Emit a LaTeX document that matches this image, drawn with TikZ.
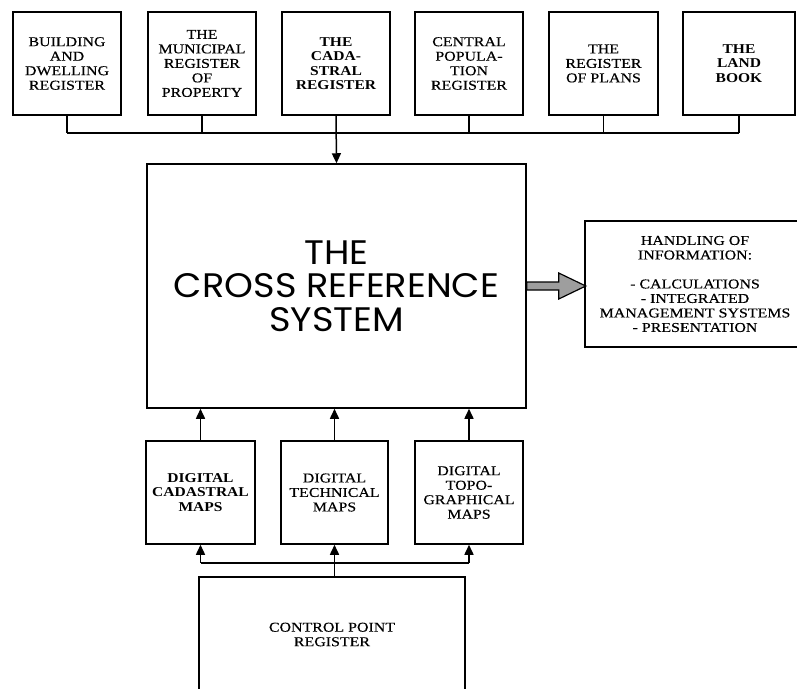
\documentclass[tikz,border=0pt]{standalone}
\usepackage{fontspec}
\setmainfont{Liberation Serif}
\newfontfamily\geo[FakeStretch=1.08]{Poppins}
\newfontfamily\tms[FakeStretch=1.18,FakeBold=0.3]{Liberation Serif}
\newfontfamily\tmsb[FakeStretch=1.15]{Liberation Serif Bold}
\usetikzlibrary{arrows.meta,calc}
\begin{document}
\begin{tikzpicture}[x=1pt,y=-1pt,
  boxline/.style={draw, line width=1.5pt},
  regbox/.style={boxline, minimum height=103pt, inner sep=0pt, align=center,
    font=\tms\fontsize{13.5}{14.5}\selectfont},
  boldbox/.style={regbox, font=\tmsb\fontsize{13.5}{14.5}\selectfont},
  plaintxt/.style={inner sep=0pt, align=center, font=\tms\fontsize{13.5}{14.5}\selectfont},
  conn/.style={line width=1.5pt},
  arr/.style={line width=1.5pt, -{Triangle[length=10pt,width=9pt]}},
  fatarrow/.style={draw=black, line width=1.2pt, fill=black!38}
]
\useasboundingbox (0,0) rectangle (797,688);
% top registers
\node[regbox, minimum width=108pt] (t1) at (67,63.5) {BUILDING\\AND\\DWELLING\\REGISTER};
\node[regbox, minimum width=108pt] (t2) at (202,63.5) {THE\\MUNICIPAL\\REGISTER\\OF\\PROPERTY};
\node[boldbox, minimum width=108pt] (t3) at (336,63.5) {THE\\CADA-\\STRAL\\REGISTER};
\node[regbox, minimum width=108pt] (t4) at (469,63.5) {CENTRAL\\POPULA-\\TION\\REGISTER};
\node[regbox, minimum width=109pt] (t5) at (603.5,63.5) {THE\\REGISTER\\OF PLANS};
\node[boldbox, minimum width=112pt] (t6) at (739,63.5) {THE\\LAND\\BOOK};
% main box
\node[boxline, minimum width=379pt, minimum height=244pt, inner sep=0pt, align=center,
  font=\geo\fontsize{34}{33.5}\selectfont] (main) at (336.5,286) {THE\\CROSS REFERENCE\\SYSTEM};
% bus to main
\coordinate (bus1) at (0,133);
\foreach \n in {t1,t2,t4,t5,t6} \draw[conn] (\n.south) -- (\n.south |- bus1);
\draw[conn] (t1.south |- bus1) -- (t6.south |- bus1);
\draw[arr] (t3.south) -- (main.north);
% handling of information box (open on the right)
\node[plaintxt] (info) at (695,284) {HANDLING OF\\INFORMATION:\\[14.5pt]- CALCULATIONS\\- INTEGRATED\\MANAGEMENT SYSTEMS\\- PRESENTATION};
\coordinate (ritl) at (585,221);
\coordinate (ribl) at (585,347);
\coordinate (redge) at (797,0);
\draw[boxline] (ritl -| redge) -- (ritl) -- (ribl) -- (ribl -| redge);
% fat arrow
\draw[fatarrow] ($(main.east)+(0,-4)$) -- ++(32,0) -- ++(0,-9) -- ($(main.east)+(59,0)$)
  -- ($(main.east)+(32,13)$) -- ++(0,-9) -- ($(main.east)+(0,4)$) -- cycle;
% digital maps
\node[boldbox, minimum width=109pt] (bA) at (200.5,492.5) {DIGITAL\\CADASTRAL\\MAPS};
\node[regbox, minimum width=107pt] (bB) at (334.5,492.5) {DIGITAL\\TECHNICAL\\MAPS};
\node[regbox, minimum width=108pt] (bC) at (469,492.5) {DIGITAL\\TOPO-\\GRAPHICAL\\MAPS};
\foreach \n in {bA,bB,bC} \draw[arr] (\n.north) -- (\n.north |- main.south);
% control point register (open at the bottom)
\node[plaintxt] (ctrl) at (332,634.5) {CONTROL POINT\\REGISTER};
\coordinate (ctl) at (199,577);
\coordinate (ctr) at (465,577);
\coordinate (pagebot) at (0,689);
\draw[boxline] (ctl |- pagebot) -- (ctl) -- (ctr) -- (ctr |- pagebot);
% lower bus
\coordinate (bus2) at (0,563);
\draw[conn] (bA.south |- bus2) -- (bC.south |- bus2);
\draw[arr] (bA.south |- bus2) -- (bA.south);
\draw[arr] (bC.south |- bus2) -- (bC.south);
\draw[arr] (bB.south |- ctl) -- (bB.south);
\end{tikzpicture}
\end{document}
